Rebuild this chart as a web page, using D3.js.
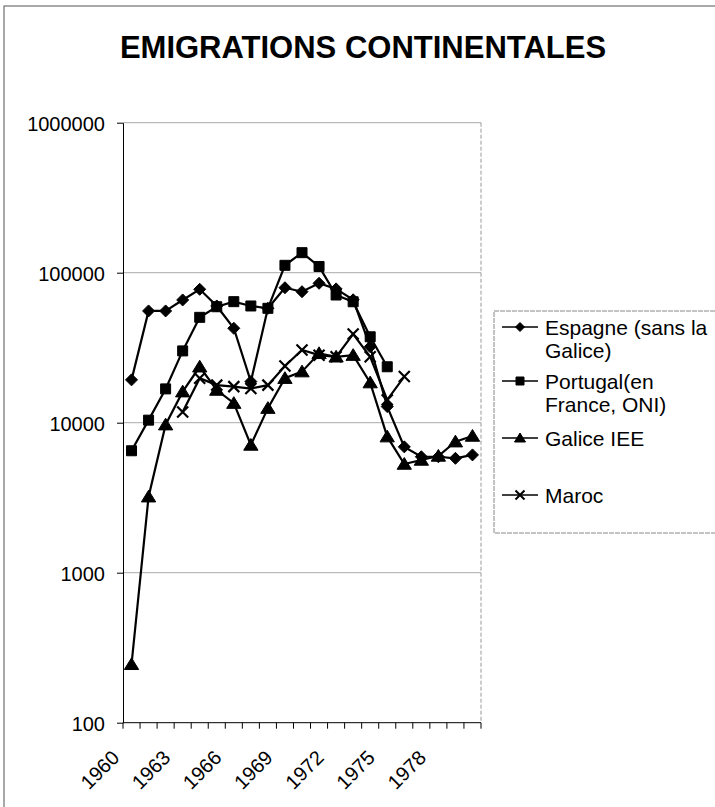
<!DOCTYPE html>
<html>
<head>
<meta charset="utf-8">
<script src="https://cdn.jsdelivr.net/npm/d3@7"></script>
<style>
  body { margin: 0; background: #fff; }
  svg { font-family: "Liberation Sans", Arial, sans-serif; }
</style>
</head>
<body>
<div id="chart"></div>
<script>
// categories (one per year)
var years = [1960, 1961, 1962, 1963, 1964, 1965, 1966, 1967, 1968, 1969, 1970,
             1971, 1972, 1973, 1974, 1975, 1976, 1977, 1978, 1979, 1980];
var year_labels = ['1960', '1963', '1966', '1969', '1972', '1975', '1978'];
var y_ticks = [100, 1000, 10000, 100000, 1000000];

// series values
var espagne = [19300, 55600, 55600, 65800, 77500, 60000, 42600, 18800, 57900, 79400, 74700,
               85000, 78000, 66000, 32100, 12800, 6900, 5930, 5930, 5790, 6100];
var portugal = [6500, 10400, 16800, 30100, 50400, 59300, 64100, 60000, 57900, 112000, 136000,
                110000, 71000, 64000, 37400, 23600, null, null, null, null, null];
var galice = [245, 3210, 9700, 16100, 23600, 16500, 13500, 7100, 12500, 19800, 21900,
              29000, 27500, 28200, 18500, 8070, 5300, 5640, 6000, 7470, 8150];
var maroc = [null, null, null, 11800, 19800, 17800, 17400, 16900, 17800, 23900, 30500,
             28200, 27500, 39000, 27500, 14200, 20300, null, null, null, null];

var series_names = [['Espagne (sans la', 'Galice)'], ['Portugal(en', 'France, ONI)'], ['Galice IEE'], ['Maroc']];

var width = 715;
var height = 807;

var svg = d3.select('#chart')
  .append('svg')
  .attr('width', width)
  .attr('height', height);

// chart border
svg.append('rect')
  .attr('x', 4).attr('y', 6)
  .attr('width', width + 10).attr('height', height + 10)
  .attr('fill', 'none')
  .attr('stroke', '#555')
  .attr('stroke-width', 1);

svg.append('text')
  .attr('x', 363)
  .attr('y', 58)
  .attr('text-anchor', 'middle')
  .attr('font-size', 31)
  .attr('font-weight', 'bold')
  .text('EMIGRATIONS CONTINENTALES');

var x = d3.scaleBand()
  .domain(years)
  .range([123, 481])
  .padding(0);

var y = d3.scaleLog()
  .domain([100, 1000000])
  .range([722.7, 122.7]);

// gridlines
svg.append('g')
  .selectAll('line')
  .data(y_ticks.slice(1))
  .enter().append('line')
    .attr('x1', 123).attr('x2', 481)
    .attr('y1', d => y(d)).attr('y2', d => y(d))
    .attr('stroke', '#aaa')
    .attr('stroke-width', 1);

// plot area right edge
svg.append('line')
  .attr('x1', 481).attr('x2', 481)
  .attr('y1', y(1000000)).attr('y2', y(100))
  .attr('stroke', '#999')
  .attr('stroke-dasharray', '4,2');

// y axis
var y_axis = d3.axisLeft(y)
  .tickValues(y_ticks)
  .tickFormat(d3.format('d'))
  .tickSizeInner(6)
  .tickSizeOuter(0)
  .tickPadding(12);

var gy = svg.append('g')
  .attr('transform', 'translate(123,0)')
  .call(y_axis);
gy.select('.domain').attr('stroke', '#000');
gy.selectAll('text')
  .attr('font-size', 20)
  .attr('font-family', '"Liberation Sans", Arial, sans-serif')
  .attr('fill', '#000')
  .attr('dy', '0.4em');

// x axis: ticks between categories
var boundaries = years.map(d => x(d)).concat([x.range()[1]]);
svg.append('line')
  .attr('x1', 123).attr('x2', 481)
  .attr('y1', y(100)).attr('y2', y(100))
  .attr('stroke', '#000');
svg.append('g')
  .selectAll('line')
  .data(boundaries)
  .enter().append('line')
    .attr('x1', d => d).attr('x2', d => d)
    .attr('y1', y(100)).attr('y2', y(100) + 6)
    .attr('stroke', '#000');

svg.append('g')
  .selectAll('text')
  .data(year_labels)
  .enter().append('text')
    .attr('text-anchor', 'end')
    .attr('font-size', 20)
    .attr('transform', d => 'translate(' + (x(+d) + x.bandwidth() / 2 - 11) + ',759) rotate(-45)')
    .text(d => d);

// markers
function diamond(s) { return 'M0,' + (-s) + 'L' + s + ',0L0,' + s + 'L' + (-s) + ',0Z'; }
function square(s) { return 'M' + (-s) + ',' + (-s) + 'h' + (2 * s) + 'v' + (2 * s) + 'h' + (-2 * s) + 'Z'; }
function triangle(s) { return 'M0,' + (-s) + 'L' + (s * 1.1) + ',' + (s * 0.8) + 'L' + (-s * 1.1) + ',' + (s * 0.8) + 'Z'; }
function cross(s) { return 'M' + (-s) + ',' + (-s) + 'L' + s + ',' + s + 'M' + s + ',' + (-s) + 'L' + (-s) + ',' + s; }

var all_series = [
  { values: espagne, marker: diamond(6), filled: true },
  { values: portugal, marker: square(5), filled: true },
  { values: galice, marker: triangle(6.5), filled: true },
  { values: maroc, marker: cross(5.5), filled: false }
];

var line = d3.line()
  .defined(d => d.v != null)
  .x(d => x(d.year) + x.bandwidth() / 2)
  .y(d => y(d.v));

all_series.forEach(function(s) {
  var pts = years.map((yr, i) => ({ year: yr, v: s.values[i] }));
  svg.append('path')
    .attr('d', line(pts))
    .attr('fill', 'none')
    .attr('stroke', '#000')
    .attr('stroke-width', 2.2);
  svg.append('g')
    .selectAll('path')
    .data(pts.filter(d => d.v != null))
    .enter().append('path')
      .attr('transform', d => 'translate(' + (x(d.year) + x.bandwidth() / 2) + ',' + y(d.v) + ')')
      .attr('d', s.marker)
      .attr('fill', s.filled ? '#000' : 'none')
      .attr('stroke', '#000')
      .attr('stroke-width', s.filled ? 1 : 2.2);
});

// legend
var legend = svg.append('g');
legend.append('rect')
  .attr('x', 494).attr('y', 311)
  .attr('width', 240).attr('height', 222)
  .attr('fill', '#fff')
  .attr('stroke', '#888')
  .attr('stroke-dasharray', '5,1');

var legend_rows = [327, 381, 438, 495];
var legend_markers = [diamond(4.5), square(4), triangle(5), cross(4.5)];
series_names.forEach(function(lines, i) {
  var ly = legend_rows[i];
  legend.append('line')
    .attr('x1', 502).attr('x2', 538)
    .attr('y1', ly).attr('y2', ly)
    .attr('stroke', '#000')
    .attr('stroke-width', 1.5);
  legend.append('path')
    .attr('transform', 'translate(520,' + ly + ')')
    .attr('d', legend_markers[i])
    .attr('fill', i < 3 ? '#000' : 'none')
    .attr('stroke', '#000')
    .attr('stroke-width', i < 3 ? 1 : 2);
  lines.forEach(function(t, j) {
    legend.append('text')
      .attr('x', 545)
      .attr('y', ly + 7.5 + j * 23)
      .attr('font-size', 21)
      .text(t);
  });
});
</script>
</body>
</html>
